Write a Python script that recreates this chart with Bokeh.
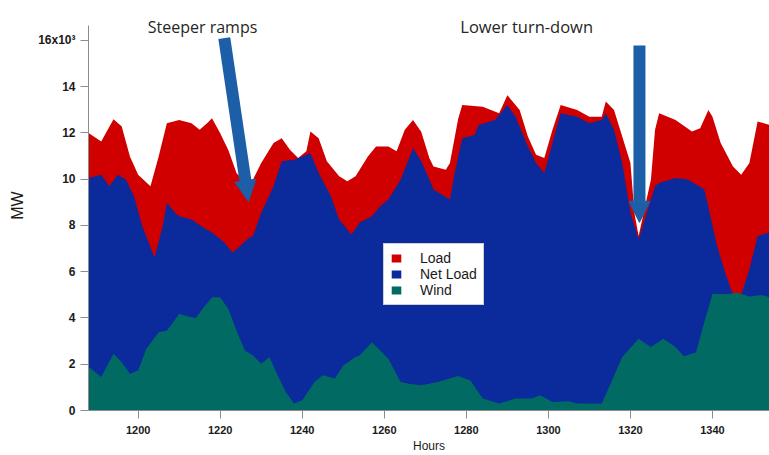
from bokeh.plotting import figure
from bokeh.models import (Range1d, FixedTicker, Legend, LegendItem, Label,
                          Arrow, NormalHead)
from bokeh.embed import file_html
from bokeh.resources import INLINE

# ---------------- data (MW) ----------------
load_hours = [1188, 1191, 1194, 1196, 1198, 1200, 1203, 1205, 1207, 1210, 1213,
              1215, 1217, 1218, 1220, 1222, 1224, 1226, 1228, 1230, 1233, 1235,
              1237, 1239, 1241, 1242, 1244, 1246, 1249, 1251, 1253, 1256, 1258,
              1261, 1263, 1265, 1267, 1269, 1271, 1272, 1275, 1276, 1278, 1279,
              1284, 1288, 1290, 1293, 1295, 1297, 1299, 1301, 1303, 1307, 1310,
              1313, 1314, 1316, 1318, 1320, 1321, 1322, 1325, 1326, 1327, 1331,
              1335, 1337, 1339, 1340, 1342, 1345, 1347, 1349, 1351, 1354]
load_mw = [11980, 11630, 12590, 12270, 10980, 10190, 9690, 10980, 12420, 12560, 12420,
           12130, 12450, 12630, 11980, 11250, 10250, 9900, 9980, 10700, 11560, 11770,
           11270, 10910, 11200, 12060, 11770, 10770, 10120, 9910, 10120, 10980, 11410,
           11410, 11200, 12130, 12560, 12050, 10900, 10550, 10410, 10700, 12600, 13200,
           13130, 12850, 13630, 12990, 11840, 11050, 10910, 12130, 13200, 12990, 12700,
           12700, 13350, 12990, 11840, 10700, 8500, 7540, 9980, 12130, 12850, 12560,
           12060, 12200, 12990, 12700, 11560, 10550, 10190, 10700, 12490, 12340]

net_hours = [1188, 1191, 1193, 1195, 1197, 1199, 1201, 1204, 1206, 1207, 1209, 1210,
             1213, 1216, 1218, 1221, 1223, 1224, 1227, 1228, 1230, 1233, 1235, 1238,
             1242, 1244, 1247, 1249, 1252, 1254, 1257, 1259, 1261, 1264, 1267, 1269,
             1271, 1272, 1276, 1277, 1279, 1282, 1283, 1287, 1290, 1292, 1295, 1297,
             1299, 1301, 1303, 1307, 1310, 1313, 1314, 1316, 1318, 1320, 1322, 1326,
             1327, 1331, 1334, 1338, 1339, 1341, 1343, 1345, 1346, 1347, 1349, 1351,
             1354]
net_mw = [10050, 10190, 9690, 10190, 9980, 9260, 7970, 6610, 7970, 8980, 8550, 8400,
          8260, 7900, 7690, 7260, 6830, 6970, 7470, 7540, 8550, 9690, 10770, 10840,
          11120, 10270, 9260, 8260, 7610, 8120, 8400, 8830, 9120, 9980, 11340, 10770,
          9980, 9550, 9120, 10120, 11770, 11910, 12340, 12560, 13200, 12700, 11410, 10700,
          10270, 11560, 12850, 12700, 12420, 12560, 12850, 12130, 10700, 8550, 7400, 9690,
          9830, 10050, 9980, 9550, 8800, 7200, 6000, 5000, 4900, 5000, 6100, 7540,
          7700]

wind_hours = [1188, 1191, 1194, 1196, 1198, 1200, 1202, 1205, 1207, 1210, 1214, 1216,
              1218, 1220, 1222, 1224, 1226, 1228, 1230, 1232, 1234, 1236, 1238, 1240,
              1243, 1245, 1248, 1250, 1253, 1254, 1257, 1261, 1264, 1266, 1269, 1273,
              1278, 1281, 1284, 1288, 1292, 1296, 1298, 1301, 1305, 1307, 1313, 1315,
              1318, 1322, 1325, 1328, 1331, 1333, 1336, 1338, 1340, 1344, 1346, 1349,
              1352, 1354]
wind_mw = [1880, 1450, 2450, 2090, 1590, 1730, 2670, 3380, 3450, 4170, 3990, 4460,
           4890, 4890, 4390, 3450, 2590, 2380, 2020, 2310, 1520, 800, 300, 440,
           1230, 1520, 1380, 1950, 2310, 2380, 2950, 2240, 1230, 1160, 1090, 1230,
           1490, 1300, 520, 300, 520, 520, 660, 370, 400, 300, 300, 1090,
           2310, 3100, 2740, 3100, 2740, 2350, 2520, 3810, 5030, 5030, 5100, 4930,
           4990, 4890]

series_names = ["Load", "Net Load", "Wind"]
series_colors = ["#d00000", "#0b2a9b", "#006a63"]

x_ticks = [1200, 1220, 1240, 1260, 1280, 1300, 1320, 1340]
y_ticks = [0, 2000, 4000, 6000, 8000, 10000, 12000, 14000, 16000]
y_tick_labels = ["0", "2", "4", "6", "8", "10", "12", "14", "16x10\u00b3"]

annotations = ["Steeper ramps", "Lower turn-down"]

# ---------------- figure ----------------
p = figure(width=769, height=455, output_backend="svg", toolbar_location=None,
           x_range=Range1d(1187.9, 1353.9), y_range=Range1d(0, 17720),
           min_border_left=88, min_border_right=0, min_border_top=0,
           min_border_bottom=43)
p.outline_line_color = None
p.xgrid.visible = False
p.ygrid.visible = False
p.background_fill_color = "white"

r_load = p.varea(x=load_hours, y1=0, y2=load_mw, fill_color=series_colors[0])
r_net = p.varea(x=net_hours, y1=0, y2=net_mw, fill_color=series_colors[1])
r_wind = p.varea(x=wind_hours, y1=0, y2=wind_mw, fill_color=series_colors[2])

# axes
p.xaxis.ticker = FixedTicker(ticks=x_ticks)
p.yaxis.ticker = FixedTicker(ticks=y_ticks)
p.yaxis.major_label_overrides = {t: s for t, s in zip(y_ticks, y_tick_labels)}
p.yaxis.bounds = (0, 16650)
p.xaxis.axis_label = "Hours"
p.yaxis.axis_label = "MW"
for ax in (p.xaxis[0], p.yaxis[0]):
    ax.axis_line_color = "#8c8c8c"
    ax.major_tick_line_color = "#8c8c8c"
    ax.minor_tick_line_color = None
    ax.major_tick_in = 0
    ax.major_label_text_font = "Liberation Sans"
    ax.major_label_text_font_style = "bold"
    ax.major_label_text_color = "#1a1a1a"
    ax.axis_label_text_font = "Liberation Sans"
    ax.axis_label_text_font_style = "normal"
    ax.axis_label_text_color = "#1a1a1a"
p.xaxis.major_label_text_font_size = "11px"
p.yaxis.major_label_text_font_size = "12px"
p.xaxis.major_tick_out = 8
p.xaxis.major_label_standoff = 7
p.xaxis.axis_label_standoff = 2
p.xaxis.axis_label_text_font_size = "12px"
p.yaxis.major_tick_out = 8
p.yaxis.major_label_standoff = 5
p.yaxis.axis_label_standoff = 9
p.yaxis.axis_label_text_font_size = "16px"

# legend
legend = Legend(items=[LegendItem(label=series_names[0], renderers=[r_load]),
                       LegendItem(label=series_names[1], renderers=[r_net]),
                       LegendItem(label=series_names[2], renderers=[r_wind])],
                location=(295, 105))
legend.border_line_color = "#a0a0a0"
legend.border_line_width = 1
legend.background_fill_color = "white"
legend.background_fill_alpha = 1
legend.label_text_font = "Liberation Sans"
legend.label_text_font_size = "14px"
legend.label_text_color = "#1a1a1a"
legend.glyph_width = 12
legend.glyph_height = 10
legend.label_standoff = 18
legend.label_height = 14
legend.padding = 6
legend.spacing = 0
legend.margin = 0
p.add_layout(legend)

# arrows
arrow_color = "#1c5ea8"
p.add_layout(Arrow(x_start=1221.0, y_start=16090, x_end=1226.9, y_end=9030,
                   line_color=arrow_color, line_width=12,
                   end=NormalHead(size=21, fill_color=arrow_color,
                                  line_color=arrow_color, line_width=1)))
p.add_layout(Arrow(x_start=1322.2, y_start=15780, x_end=1322.2, y_end=8130,
                   line_color=arrow_color, line_width=12,
                   end=NormalHead(size=21, fill_color=arrow_color,
                                  line_color=arrow_color, line_width=1)))

# annotation texts
p.add_layout(Label(x=1215.7, y=16560, text=annotations[0], text_align="center",
                   text_baseline="alphabetic", text_font="Open Sans",
                   text_font_size="16px", text_color="#262626"))
p.add_layout(Label(x=1294.7, y=16600, text=annotations[1], text_align="center",
                   text_baseline="alphabetic", text_font="Open Sans",
                   text_font_size="16.5px", text_color="#262626"))

open("out.html", "w").write(file_html(p, INLINE))
